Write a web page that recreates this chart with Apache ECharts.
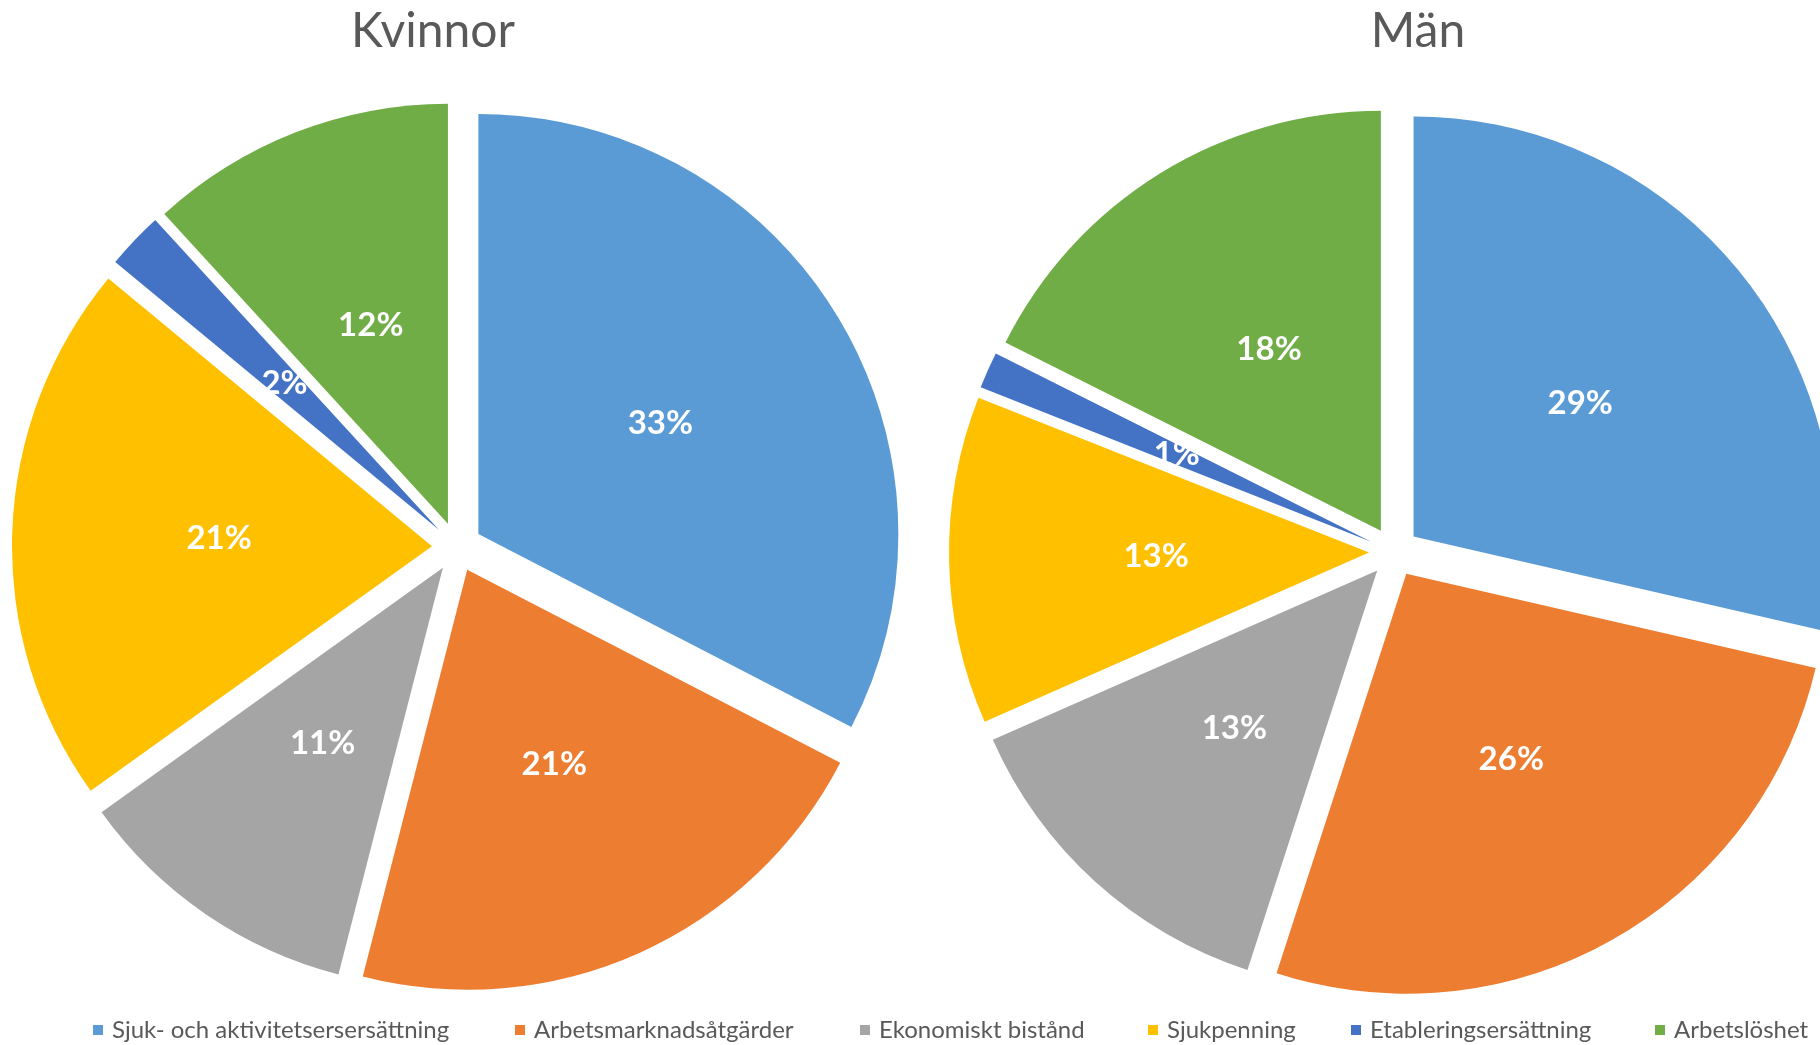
<!DOCTYPE html>
<html>
<head>
<meta charset="utf-8">
<script src="https://cdn.jsdelivr.net/npm/echarts@6/dist/echarts.min.js"></script>
<style>
  html, body { margin: 0; padding: 0; background: #fff; }
  #chart { width: 1820px; height: 1045px; }
</style>
</head>
<body>
<div id="chart"></div>
<script>
// ---- Data ----
const categories = [
  'Sjuk- och aktivitetsersersättning',
  'Arbetsmarknadsåtgärder',
  'Ekonomiskt bistånd',
  'Sjukpenning',
  'Etableringsersättning',
  'Arbetslöshet'
];
const chartTitles = ['Kvinnor', 'Män'];
const kvinnorValues = [32.6, 21.4, 11.1, 20.9, 2.2, 11.8];
const manValues = [28.6, 26.4, 13.4, 12.6, 1.4, 17.6];

// ---- Styling / layout ----
const colors = ['#5B9BD5', '#ED7D31', '#A5A5A5', '#FFC000', '#4472C4', '#70AD47'];
const pieCenters = [[457, 547], [1394, 552]];
const titleX = [428, 1413];
const legendX = [93, 515, 860, 1148, 1351, 1655];

function pieSeries(name, values, center) {
  const total = values.reduce((a, b) => a + b, 0);
  return {
    name: name,
    type: 'pie',
    center: center,
    radius: 420,
    startAngle: 90,
    clockwise: true,
    selectedMode: 'multiple',
    selectedOffset: 25,
    animation: false,
    emphasis: { disabled: true },
    label: {
      show: true,
      position: 'inside',
      color: '#ffffff',
      fontFamily: 'Lato',
      fontWeight: 'bold',
      fontSize: 33,
      formatter: p => Math.round(p.value / total * 100) + '%'
    },
    labelLine: { show: false },
    itemStyle: { borderWidth: 0 },
    data: categories.map((c, i) => ({
      name: c,
      value: values[i],
      selected: true,
      itemStyle: { color: colors[i] }
    }))
  };
}

const chart = echarts.init(document.getElementById('chart'), null, { renderer: 'canvas' });
const option = {
  backgroundColor: '#ffffff',
  color: colors,
  animation: false,
  title: chartTitles.map((t, i) => ({
    text: t,
    left: titleX[i],
    textAlign: 'center',
    top: 3,
    textStyle: { fontFamily: 'Lato', fontWeight: 'normal', fontSize: 48, color: '#595959' }
  })),
  legend: categories.map((c, i) => ({
    data: [c],
    left: legendX[i],
    top: 1018,
    padding: 0,
    icon: 'rect',
    itemWidth: 10,
    itemHeight: 10,
    selectedMode: false,
    textStyle: {
      fontFamily: 'Lato',
      fontSize: 24,
      color: '#595959',
      padding: [0, 0, 0, 4]
    }
  })),
  series: [
    pieSeries(chartTitles[0], kvinnorValues, pieCenters[0]),
    pieSeries(chartTitles[1], manValues, pieCenters[1])
  ]
};
chart.setOption(option);
</script>
</body>
</html>
